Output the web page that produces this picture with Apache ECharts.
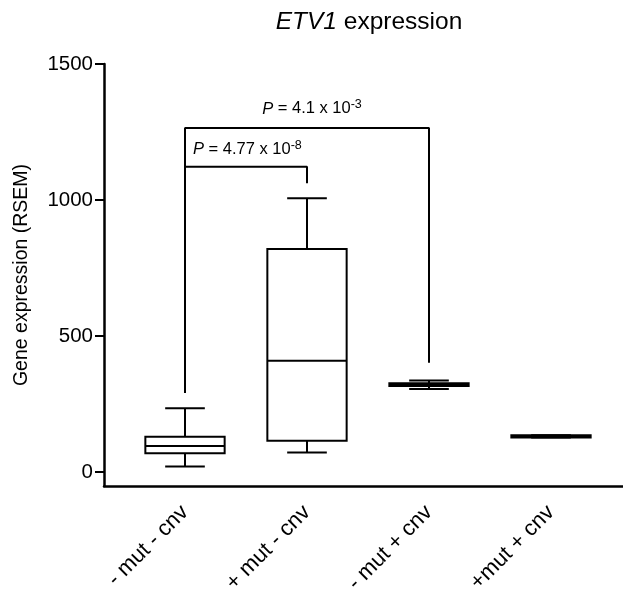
<!DOCTYPE html>
<html>
<head>
<meta charset="utf-8">
<script src="https://cdn.jsdelivr.net/npm/echarts@6/dist/echarts.min.js"></script>
<style>
html,body{margin:0;padding:0;background:#fff;}
#chart{width:623px;height:590px;}
</style>
</head>
<body>
<div id="chart"></div>
<script>
// ---- data ----
var categories = ['- mut - cnv', '+ mut - cnv', '- mut + cnv', '+mut + cnv'];
var whiskerLow  = [20, 72, 305, 127];
var q1          = [69, 115, 316, 127];
var median      = [96, 409, 321, 131];
var q3          = [130, 820, 326, 135];
var whiskerHigh = [234, 1006, 336, 135];
var yTicks = [0, 500, 1000, 1500];
// significance brackets: [category index, value]
var bracketOuter = [[0, 290], [0, 1265], [2, 1265], [2, 402]];
var bracketInner = [[0, 1122], [1, 1122], [1, 1062]];
var pOuter = {x: 1, y: 1265, mant: '4.1', exp: '-3'};
var pInner = {x: 0, y: 1122, mant: '4.77', exp: '-8'};

var Y_MIN = -51.5, Y_MAX = 1500;
var FONT = '"Liberation Sans", Arial, sans-serif';
var BOX_FRAC = 0.65;

var boxData = categories.map(function (c, i) {
  return [i, whiskerLow[i], q1[i], median[i], q3[i], whiskerHigh[i]];
});
function toCat(arr) { return arr.map(function (p) { return [categories[p[0]], p[1]]; }); }
function pRich(p) { return '{i|P}{n| = ' + p.mant + ' x 10}{s|' + p.exp + '}'; }
var richP = {
  i: {fontStyle: 'italic', fontSize: 16.5, fontFamily: FONT, color: '#000'},
  n: {fontSize: 16.5, fontFamily: FONT, color: '#000'},
  s: {fontSize: 12.5, fontFamily: FONT, color: '#000', verticalAlign: 'top', padding: [0, 0, 9, 0]}
};

function renderBox(params, api) {
  var x = api.value(0);
  var band = api.size([1, 0])[0];
  var bw = band * BOX_FRAC, cw = bw / 2;
  var pLow = api.coord([x, api.value(1)]);
  var pQ1 = api.coord([x, api.value(2)]);
  var pMed = api.coord([x, api.value(3)]);
  var pQ3 = api.coord([x, api.value(4)]);
  var pHigh = api.coord([x, api.value(5)]);
  var cx = pMed[0];
  var ls = {stroke: '#000', lineWidth: 2, fill: null};
  return {
    type: 'group',
    children: [
      {type: 'line', shape: {x1: cx, y1: pQ1[1], x2: cx, y2: pLow[1]}, style: ls},
      {type: 'line', shape: {x1: cx, y1: pQ3[1], x2: cx, y2: pHigh[1]}, style: ls},
      {type: 'line', shape: {x1: cx - cw / 2, y1: pLow[1], x2: cx + cw / 2, y2: pLow[1]}, style: ls},
      {type: 'line', shape: {x1: cx - cw / 2, y1: pHigh[1], x2: cx + cw / 2, y2: pHigh[1]}, style: ls},
      {type: 'rect', shape: {x: cx - bw / 2, y: pQ3[1], width: bw, height: pQ1[1] - pQ3[1]},
       style: {stroke: '#000', lineWidth: 2, fill: '#fff'}},
      {type: 'line', shape: {x1: cx - bw / 2, y1: pMed[1], x2: cx + bw / 2, y2: pMed[1]}, style: ls}
    ]
  };
}

var chart = echarts.init(document.getElementById('chart'), null, {renderer: 'canvas'});
chart.setOption({
  animation: false,
  backgroundColor: '#fff',
  title: {
    text: '{i|ETV1}{n| expression}',
    left: 364, top: 5, textAlign: 'center',
    textStyle: {
      fontSize: 24.5, fontWeight: 'normal', color: '#000', fontFamily: FONT,
      rich: {i: {fontStyle: 'italic', fontSize: 24.5, fontFamily: FONT, color: '#000'},
             n: {fontSize: 24.5, fontFamily: FONT, color: '#000'}}
    }
  },
  grid: [
    {left: 104, right: 0, top: 64, bottom: 104, outerBoundsMode: 'none'},
    {left: 124, right: 11, top: 64, bottom: 104, outerBoundsMode: 'none'}
  ],
  xAxis: [
    {gridIndex: 0, type: 'value', min: 0, max: 1,
     axisLine: {show: true, onZero: false, lineStyle: {color: '#000', width: 2.5}},
     axisTick: {show: false}, axisLabel: {show: false}, splitLine: {show: false}},
    {gridIndex: 1, type: 'category', data: categories, boundaryGap: true,
     axisLine: {show: false, onZero: false}, axisTick: {show: false}, splitLine: {show: false},
     axisLabel: {rotate: 45, fontSize: 22, color: '#000', fontFamily: FONT, margin: 23, interval: 0}}
  ],
  yAxis: [
    {gridIndex: 0, type: 'value', min: Y_MIN, max: Y_MAX,
     name: 'Gene expression (RSEM)', nameLocation: 'middle', nameGap: 72, nameRotate: 90,
     nameTextStyle: {fontSize: 19.5, color: '#000', fontFamily: FONT},
     axisLine: {show: true, onZero: false, lineStyle: {color: '#000', width: 2.5}},
     axisTick: {show: true, length: 9, lineStyle: {color: '#000', width: 2}, customValues: yTicks},
     axisLabel: {fontSize: 20.5, color: '#000', fontFamily: FONT, margin: 11, customValues: yTicks,
                 formatter: function (v) { return String(v); }},
     splitLine: {show: false}},
    {gridIndex: 1, type: 'value', min: Y_MIN, max: Y_MAX, show: false,
     axisLine: {show: false}, axisTick: {show: false}, axisLabel: {show: false}, splitLine: {show: false}}
  ],
  series: [
    {type: 'custom', xAxisIndex: 1, yAxisIndex: 1, data: boxData,
     encode: {x: 0, y: [1, 2, 3, 4, 5]}, renderItem: renderBox, silent: true},
    {type: 'line', xAxisIndex: 1, yAxisIndex: 1, data: toCat(bracketOuter),
     symbol: 'none', lineStyle: {color: '#000', width: 2}, silent: true},
    {type: 'line', xAxisIndex: 1, yAxisIndex: 1, data: toCat(bracketInner),
     symbol: 'none', lineStyle: {color: '#000', width: 2}, silent: true},
    {type: 'scatter', xAxisIndex: 1, yAxisIndex: 1, symbolSize: 0, silent: true,
     itemStyle: {opacity: 1, color: '#000'},
     data: [[categories[pOuter.x], pOuter.y]],
     label: {show: true, position: 'top', distance: 8, formatter: pRich(pOuter), offset: [5, 0],
             color: '#000', opacity: 1, textBorderWidth: 0, rich: richP}},
    {type: 'scatter', xAxisIndex: 1, yAxisIndex: 1, symbolSize: 0, silent: true,
     itemStyle: {opacity: 1, color: '#000'},
     data: [[categories[pInner.x], pInner.y]],
     label: {show: true, position: [8, -17], align: 'left', verticalAlign: 'middle',
             formatter: pRich(pInner), color: '#000', opacity: 1, textBorderWidth: 0, rich: richP}}
  ]
});
</script>
</body>
</html>
